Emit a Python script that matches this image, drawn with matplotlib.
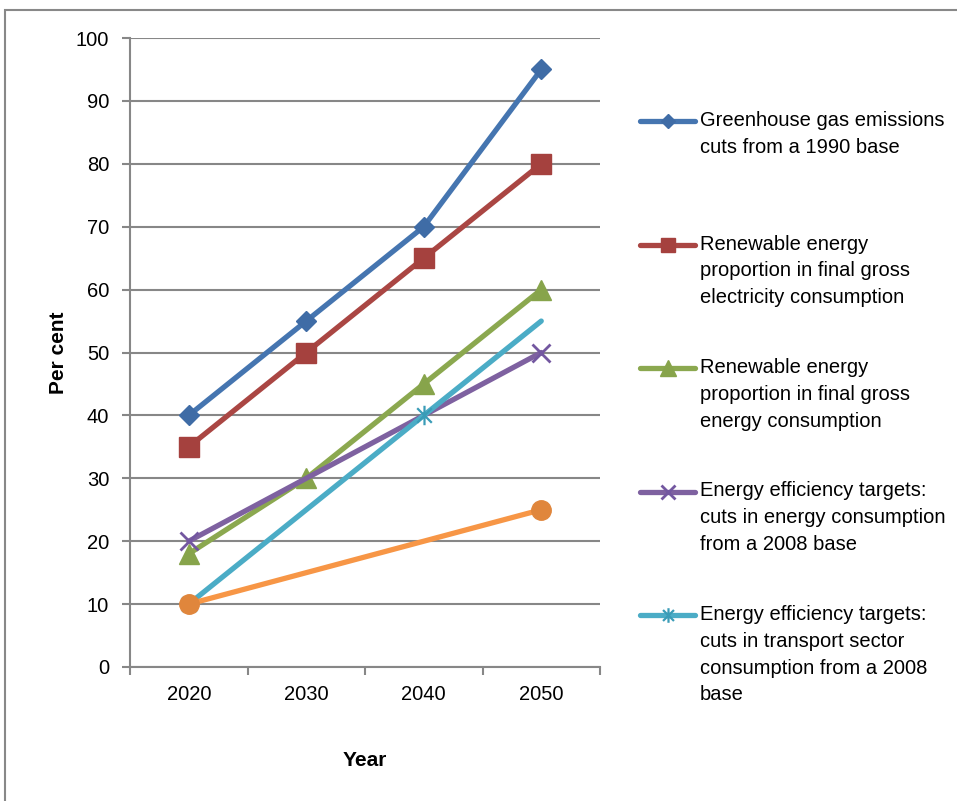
import matplotlib
matplotlib.use("Agg")
import matplotlib.pyplot as plt
from matplotlib.lines import Line2D
from matplotlib.patches import Rectangle
from matplotlib.path import Path

plt.rcParams["font.family"] = ["Liberation Sans", "DejaVu Sans"]

# ── Data ─────────────────────────────────────────────────────────────────────
years = ["2020", "2030", "2040", "2050"]

ghg_years = ["2020", "2030", "2040", "2050"]
ghg_cuts = [40, 55, 70, 95]

re_elec_years = ["2020", "2030", "2040", "2050"]
re_elec = [35, 50, 65, 80]

re_energy_years = ["2020", "2030", "2040", "2050"]
re_energy = [18, 30, 45, 60]

eff_energy_years = ["2020", "2050"]
eff_energy = [20, 50]

eff_transport_years = ["2020", "2040", "2050"]
eff_transport = [10, 40, 55]

unlabelled_years = ["2020", "2050"]
unlabelled = [10, 25]

labels = [
    "Greenhouse gas emissions\ncuts from a 1990 base",
    "Renewable energy\nproportion in final gross\nelectricity consumption",
    "Renewable energy\nproportion in final gross\nenergy consumption",
    "Energy efficiency targets:\ncuts in energy consumption\nfrom a 2008 base",
    "Energy efficiency targets:\ncuts in transport sector\nconsumption from a 2008\nbase",
]

# Excel-style asterisk marker: vertical stroke plus an X
asterisk = Path([(0, -1), (0, 1), (-0.75, -0.75), (0.75, 0.75), (-0.75, 0.75), (0.75, -0.75)],
                [Path.MOVETO, Path.LINETO] * 3)

styles = [
    dict(color="#4575B0", marker="D", ms=10, mec="#3F6CA6", mfc="#3F6CA6"),
    dict(color="#AA4643", marker="s", ms=14, mec="#A5413E", mfc="#A5413E"),
    dict(color="#8BA84F", marker="^", ms=14.5, mec="#87A44B", mfc="#87A44B"),
    dict(color="#7E61A0", marker="x", ms=13.5, mec="#7357A0", mew=2),
    dict(color="#4BACC6", marker=asterisk, ms=14, mec="#3A9CB7", mew=1.6),
]

W, H = 957, 801
fig = plt.figure(figsize=(W / 100, H / 100), dpi=100)
ax = fig.add_axes([130 / W, 1 - 667 / H, 470 / W, 629 / H])

def pos(ys):
    return [years.index(y) for y in ys]

series = [
    (ghg_years, ghg_cuts, None),
    (re_elec_years, re_elec, None),
    (re_energy_years, re_energy, None),
    (eff_energy_years, eff_energy, None),
    (eff_transport_years, eff_transport, [0, 1]),
]
for (ys, vals, every), st in zip(series, styles):
    ax.plot(pos(ys), vals, lw=3.8, solid_capstyle="round", solid_joinstyle="round",
            markevery=every, **st)

ax.plot(pos(unlabelled_years), unlabelled, color="#F79646", lw=3.8,
        solid_capstyle="round", marker="o", ms=14, mfc="#E0863C", mec="#E0863C")

# ── Axes styling ─────────────────────────────────────────────────────────────
grid_c = "#878787"
ax.set_xlim(-0.5, 3.5)
ax.set_ylim(0, 100)
ax.set_yticks(range(0, 101, 10))
ax.set_xticks(range(len(years)))
ax.set_xticklabels(years)
ax.set_xticks([i - 0.5 for i in range(len(years) + 1)], minor=True)
ax.yaxis.grid(True, color=grid_c, lw=1.5)
ax.set_axisbelow(True)
for s in ["top", "right"]:
    ax.spines[s].set_visible(False)
for s in ["left", "bottom"]:
    ax.spines[s].set_color(grid_c)
    ax.spines[s].set_linewidth(1.5)
ax.tick_params(axis="y", length=6, width=1.5, color=grid_c, pad=9, labelsize=14.5)
ax.tick_params(axis="x", which="major", length=0, pad=13, labelsize=14.5)
ax.tick_params(axis="x", which="minor", length=6, width=1.5, color=grid_c)

ax.set_ylabel("Per cent", fontsize=15, fontweight="bold")
ax.yaxis.set_label_coords(-0.132, 0.5)
ax.set_xlabel("Year", fontsize=15, fontweight="bold")
ax.xaxis.set_label_coords(0.5, -0.134)

# ── Legend (handle aligned with first text line) ────────────────────────────
for i, (label, st) in enumerate(zip(labels, styles)):
    yc = 121 + i * 123.5
    y = 1 - yc / H
    handle = Line2D([640 / W, 695 / W], [y, y], transform=fig.transFigure,
                    color=st["color"], lw=3.8, solid_capstyle="round")
    mark = Line2D([667.5 / W], [y], transform=fig.transFigure, marker=st["marker"],
                  ms=st["ms"] * 0.75, mec=st["mec"], mfc=st.get("mfc", "none"),
                  mew=st.get("mew", 1))
    fig.add_artist(handle)
    fig.add_artist(mark)
    fig.text(700 / W, 1 - (yc - 10) / H, label, fontsize=14.5, va="top",
             ha="left", linespacing=1.52)

# Outer chart border
fig.add_artist(Rectangle((5 / W, -0.1), 1.2, 1 - 10 / H + 0.1, transform=fig.transFigure,
                         fill=False, ec="#888888", lw=1.5))

fig.savefig("out.png", dpi=100)
